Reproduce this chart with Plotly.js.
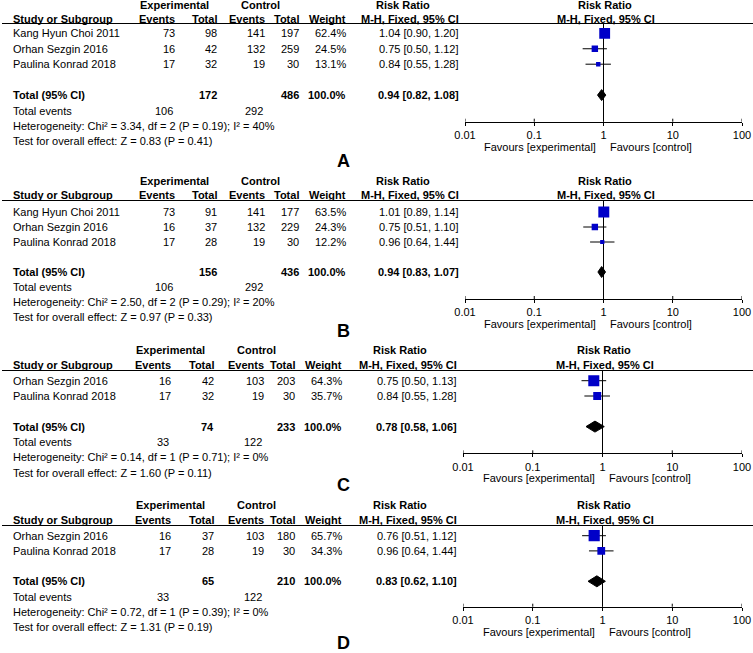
<!DOCTYPE html>
<html><head><meta charset="utf-8">
<script src="https://cdn.plot.ly/plotly-3.0.1.min.js"></script>
<style>html,body{margin:0;padding:0;background:#fff}</style>
</head><body><div id="chart" style="width:753px;height:653px"></div>
<script>
// ---------------- DATA ----------------
const panelLabels = ['A', 'B', 'C', 'D'];
const tickValues = [0.01, 0.1, 1, 10, 100];
const tickLabels = ['0.01', '0.1', '1', '10', '100'];
const nullValue = 1;

const studiesA = ['Kang Hyun Choi 2011', 'Orhan Sezgin 2016', 'Paulina Konrad 2018'];
const expEventsA = [73, 16, 17];
const expTotalA = [98, 42, 32];
const ctrlEventsA = [141, 132, 19];
const ctrlTotalA = [197, 259, 30];
const weightA = [62.4, 24.5, 13.1];
const rrA = [1.04, 0.75, 0.84];
const rrLowA = [0.90, 0.50, 0.55];
const rrHighA = [1.20, 1.12, 1.28];

const studiesB = ['Kang Hyun Choi 2011', 'Orhan Sezgin 2016', 'Paulina Konrad 2018'];
const expEventsB = [73, 16, 17];
const expTotalB = [91, 37, 28];
const ctrlEventsB = [141, 132, 19];
const ctrlTotalB = [177, 229, 30];
const weightB = [63.5, 24.3, 12.2];
const rrB = [1.01, 0.75, 0.96];
const rrLowB = [0.89, 0.51, 0.64];
const rrHighB = [1.14, 1.10, 1.44];

const studiesC = ['Orhan Sezgin 2016', 'Paulina Konrad 2018'];
const expEventsC = [16, 17];
const expTotalC = [42, 32];
const ctrlEventsC = [103, 19];
const ctrlTotalC = [203, 30];
const weightC = [64.3, 35.7];
const rrC = [0.75, 0.84];
const rrLowC = [0.50, 0.55];
const rrHighC = [1.13, 1.28];

const studiesD = ['Orhan Sezgin 2016', 'Paulina Konrad 2018'];
const expEventsD = [16, 17];
const expTotalD = [37, 28];
const ctrlEventsD = [103, 19];
const ctrlTotalD = [180, 30];
const weightD = [65.7, 34.3];
const rrD = [0.76, 0.96];
const rrLowD = [0.51, 0.64];
const rrHighD = [1.12, 1.44];

// pooled / summary values per panel (A, B, C, D)
const totalExp = [172, 156, 74, 65];
const totalCtrl = [486, 436, 233, 210];
const pooledRR = [0.94, 0.94, 0.78, 0.83];
const pooledLow = [0.82, 0.83, 0.58, 0.62];
const pooledHigh = [1.08, 1.07, 1.06, 1.10];
const eventsExp = [106, 106, 33, 33];
const eventsCtrl = [292, 292, 122, 122];
const hetChi2 = ['3.34', '2.50', '0.14', '0.72'];
const hetDf = [2, 2, 1, 1];
const hetP = ['0.19', '0.29', '0.71', '0.39'];
const hetI2 = [40, 20, 0, 0];
const zValue = ['0.83', '0.97', '1.60', '1.31'];
const zP = ['0.41', '0.33', '0.11', '0.19'];

// ---------------- LAYOUT GEOMETRY (pixels) ----------------
const W = 753, H = 653;
const FONT = 'Liberation Sans, Arial, Helvetica, sans-serif';
const colsAB = [176, 218, 266, 300, 347, 460];
const colsCD = [172, 215, 265, 296, 343, 458];
const geom = [
  {hdr1: 5.5, hdr2: 19.5, line: 23.5, row0: 33.3, step: 15.45, axis: 121.7, x0: 465, x1: 742, letter: 160.5, cols: colsAB, hc: [174, 260, 402.5]},
  {hdr1: 181, hdr2: 195, line: 200.5, row0: 212, step: 15.0, axis: 299, x0: 465, x1: 742, letter: 331, cols: colsAB, hc: [174, 260, 402.5]},
  {hdr1: 350.3, hdr2: 364.7, line: 370.5, row0: 380.7, step: 15.3, axis: 453.3, x0: 463, x1: 742, letter: 485, cols: colsCD, hc: [170, 256.5, 400]},
  {hdr1: 505, hdr2: 519.7, line: 525.5, row0: 535.7, step: 15.2, axis: 606.7, x0: 463, x1: 742, letter: 643, cols: colsCD, hc: [170, 256.5, 400]}
];

const panels = [
  {studies: studiesA, ee: expEventsA, et: expTotalA, ce: ctrlEventsA, ct: ctrlTotalA, w: weightA, rr: rrA, lo: rrLowA, hi: rrHighA},
  {studies: studiesB, ee: expEventsB, et: expTotalB, ce: ctrlEventsB, ct: ctrlTotalB, w: weightB, rr: rrB, lo: rrLowB, hi: rrHighB},
  {studies: studiesC, ee: expEventsC, et: expTotalC, ce: ctrlEventsC, ct: ctrlTotalC, w: weightC, rr: rrC, lo: rrLowC, hi: rrHighC},
  {studies: studiesD, ee: expEventsD, et: expTotalD, ce: ctrlEventsD, ct: ctrlTotalD, w: weightD, rr: rrD, lo: rrLowD, hi: rrHighD}
];

const traces = [];
const annotations = [];
const shapes = [];
const layout = {
  width: W, height: H,
  margin: {l: 0, r: 0, t: 0, b: 0},
  paper_bgcolor: '#fff', plot_bgcolor: 'rgba(0,0,0,0)',
  showlegend: false,
  font: {family: FONT, size: 11, color: '#000'}
};

const px = x => x / W;
const py = y => 1 - y / H;
function txt(text, x, y, anchor, extra) {
  return Object.assign({
    text: text, x: px(x), y: py(y), xref: 'paper', yref: 'paper',
    xanchor: anchor, yanchor: 'middle', showarrow: false, borderpad: 0,
    font: {family: FONT, size: 11, color: '#000'}
  }, extra || {});
}
const f2 = v => v.toFixed(2);
const ci = (r, l, h) => f2(r) + ' [' + f2(l) + ', ' + f2(h) + ']';

panels.forEach((p, k) => {
  const g = geom[k];
  const sfx = k === 0 ? '' : String(k + 1);
  const xa = 'x' + sfx, ya = 'y' + sfx;
  const n = p.studies.length;
  const rowY = i => g.row0 + i * g.step;
  const totIdx = n + 1;

  // axes
  layout['xaxis' + sfx] = {
    type: 'log', range: [Math.log10(tickValues[0]), Math.log10(tickValues[tickValues.length - 1])],
    domain: [px(g.x0), px(g.x1)], anchor: ya,
    tickmode: 'array', tickvals: tickValues, ticktext: tickLabels,
    ticks: 'outside', ticklen: 3, tickwidth: 1, tickcolor: '#000',
    showline: true, linecolor: '#000', linewidth: 1,
    showgrid: false, zeroline: false, fixedrange: true,
    tickfont: {family: FONT, size: 11, color: '#000'}
  };
  const yBottom = (g.axis - g.row0) / g.step;
  const yTop = (g.line - g.row0) / g.step;
  layout['yaxis' + sfx] = {
    domain: [py(g.axis), py(g.line)], range: [yBottom, yTop], anchor: xa,
    visible: false, fixedrange: true
  };

  // null-effect vertical line
  traces.push({x: [nullValue, nullValue], y: [yTop, yBottom], xaxis: xa, yaxis: ya,
    mode: 'lines', line: {color: '#000', width: 1}, hoverinfo: 'skip', cliponaxis: false});

  // confidence-interval whiskers
  const wx = [], wy = [];
  for (let i = 0; i < n; i++) { wx.push(p.lo[i], p.hi[i], null); wy.push(i, i, null); }
  traces.push({x: wx, y: wy, xaxis: xa, yaxis: ya, mode: 'lines',
    line: {color: '#000', width: 1}, hoverinfo: 'skip'});

  // study squares
  traces.push({x: p.rr, y: p.rr.map((_, i) => i), xaxis: xa, yaxis: ya, mode: 'markers',
    marker: {symbol: 'square', color: '#0000C8', opacity: 1,
      size: p.w.map(w => Math.max(3, 1.5 * Math.sqrt(w) - 1)), line: {width: 0}},
    hoverinfo: 'skip'});

  // pooled diamond
  const hh = 5.5 / g.step;
  traces.push({x: [pooledLow[k], pooledRR[k], pooledHigh[k], pooledRR[k], pooledLow[k]],
    y: [totIdx, totIdx - hh, totIdx, totIdx + hh, totIdx], xaxis: xa, yaxis: ya,
    mode: 'lines', fill: 'toself', fillcolor: '#000', line: {color: '#000', width: 1}, hoverinfo: 'skip'});

  // upper half of axis ticks
  const dpx = g.axis - g.line;
  tickValues.forEach(v => shapes.push({type: 'line', xref: xa, yref: ya + ' domain',
    x0: v, x1: v, y0: 0, y1: 3 / dpx, line: {color: '#000', width: 1}}));

  // header rule
  shapes.push({type: 'line', xref: 'paper', yref: 'paper', x0: px(2), x1: 1, y0: py(g.line), y1: py(g.line),
    line: {color: '#000', width: 1}});

  // header texts
  const c = g.cols;
  annotations.push(txt('<b>Experimental</b>', g.hc[0], g.hdr1, 'center'));
  annotations.push(txt('<b>Control</b>', g.hc[1], g.hdr1, 'center'));
  annotations.push(txt('<b>Risk Ratio</b>', g.hc[2], g.hdr1, 'center'));
  annotations.push(txt('<b>Study or Subgroup</b>', 11.7, g.hdr2, 'left'));
  annotations.push(txt('<b>Events</b>', c[0], g.hdr2, 'right'));
  annotations.push(txt('<b>Total</b>', c[1], g.hdr2, 'right'));
  annotations.push(txt('<b>Events</b>', c[2], g.hdr2, 'right'));
  annotations.push(txt('<b>Total</b>', c[3], g.hdr2, 'right'));
  annotations.push(txt('<b>Weight</b>', c[4], g.hdr2, 'right'));
  annotations.push(txt('<b>M-H, Fixed, 95% CI</b>', c[5], g.hdr2, 'right'));
  annotations.push(Object.assign(txt('<b>Risk Ratio</b>', 0, g.hdr1, 'center'), {xref: xa, x: Math.log10(nullValue), xshift: 1.5}));
  annotations.push(Object.assign(txt('<b>M-H, Fixed, 95% CI</b>', 0, g.hdr2, 'center'), {xref: xa, x: Math.log10(nullValue), xshift: 2.5}));

  // study rows
  for (let i = 0; i < n; i++) {
    const y = rowY(i);
    annotations.push(txt(p.studies[i], 11.7, y, 'left'));
    annotations.push(txt(String(p.ee[i]), c[0], y, 'right'));
    annotations.push(txt(String(p.et[i]), c[1], y, 'right'));
    annotations.push(txt(String(p.ce[i]), c[2], y, 'right'));
    annotations.push(txt(String(p.ct[i]), c[3], y, 'right'));
    annotations.push(txt(p.w[i].toFixed(1) + '%', c[4], y, 'right'));
    annotations.push(txt(ci(p.rr[i], p.lo[i], p.hi[i]), c[5], y, 'right'));
  }
  // total row
  const yt = rowY(totIdx);
  annotations.push(txt('<b>Total (95% CI)</b>', 11.7, yt, 'left'));
  annotations.push(txt('<b>' + totalExp[k] + '</b>', c[1], yt, 'right'));
  annotations.push(txt('<b>' + totalCtrl[k] + '</b>', c[3], yt, 'right'));
  annotations.push(txt('<b>100.0%</b>', c[4], yt, 'right'));
  annotations.push(txt('<b>' + ci(pooledRR[k], pooledLow[k], pooledHigh[k]) + '</b>', c[5], yt, 'right'));
  // total events
  const ye = rowY(totIdx + 1);
  annotations.push(txt('Total events', 11.7, ye, 'left'));
  annotations.push(txt(String(eventsExp[k]), c[0] - 2.5, ye, 'right'));
  annotations.push(txt(String(eventsCtrl[k]), c[2] - 2.5, ye, 'right'));
  // heterogeneity and test
  annotations.push(txt('Heterogeneity: Chi² = ' + hetChi2[k] + ', df = ' + hetDf[k] + ' (P = ' + hetP[k] + '); I² = ' + hetI2[k] + '%', 11.7, rowY(totIdx + 2), 'left'));
  annotations.push(txt('Test for overall effect: Z = ' + zValue[k] + ' (P = ' + zP[k] + ')', 11.7, rowY(totIdx + 3), 'left'));

  // favours labels
  annotations.push(Object.assign(txt('Favours [experimental]', 0, g.axis + 25, 'right'), {xref: xa, x: Math.log10(nullValue), xshift: -6.5}));
  annotations.push(Object.assign(txt('Favours [control]', 0, g.axis + 25, 'left'), {xref: xa, x: Math.log10(nullValue), xshift: 5}));

  // panel letter
  annotations.push(txt('<b>' + panelLabels[k] + '</b>', 343.5, g.letter, 'center', {font: {family: FONT, size: 18, color: '#000'}}));
});

layout.annotations = annotations;
layout.shapes = shapes;

Plotly.newPlot('chart', traces, layout, {staticPlot: true, displayModeBar: false});
</script>
</body></html>
